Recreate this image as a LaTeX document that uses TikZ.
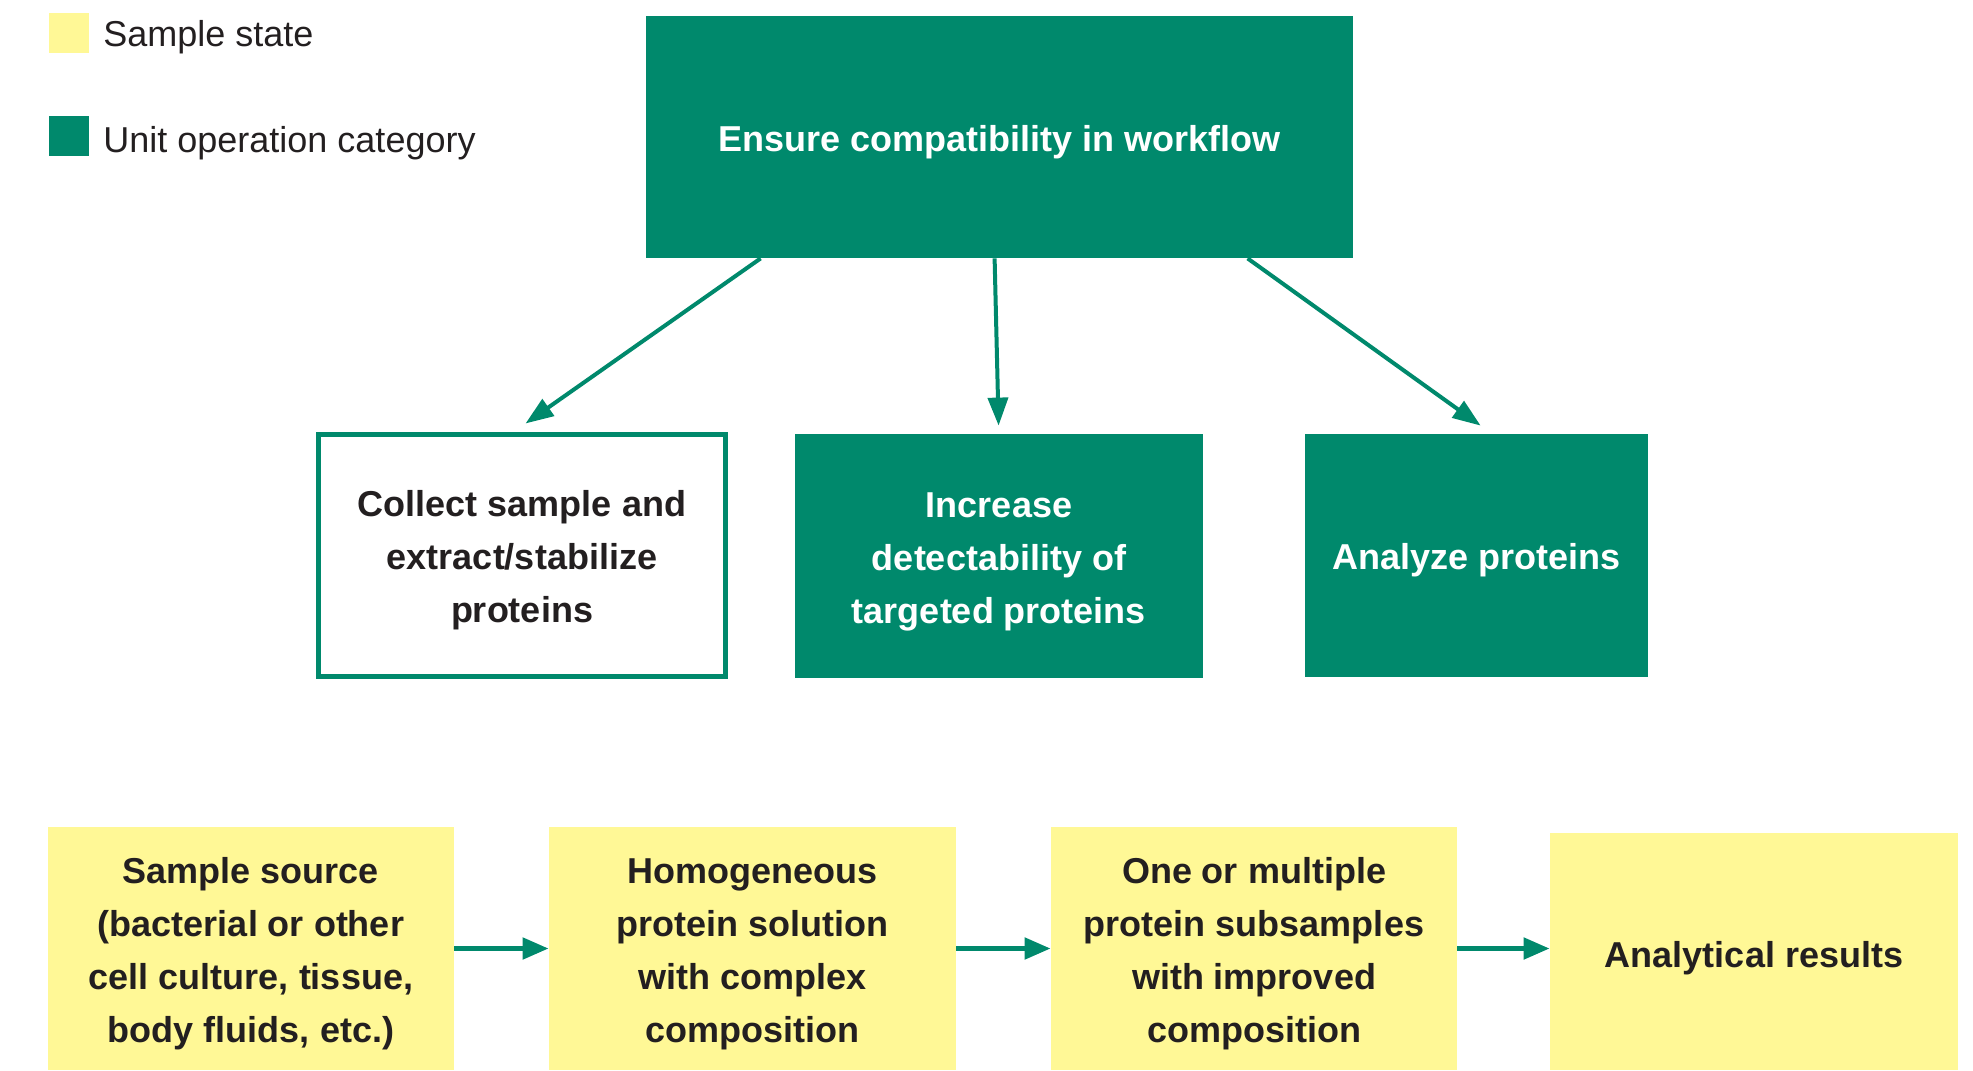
\documentclass[tikz,border=0pt]{standalone}
\usepackage{fontspec}
\setmainfont{Liberation Sans}
\usetikzlibrary{arrows.meta,calc}
\definecolor{opgreen}{RGB}{0,137,108}
\definecolor{stateyellow}{RGB}{255,248,150}
\definecolor{ink}{RGB}{35,31,32}
% a taller strut on the first line sets each text block a little lower
\newcommand{\lift}[1][18pt]{\rule{0pt}{#1}}
\begin{document}
\begin{tikzpicture}[x=0.5pt,y=-0.5pt,
  box/.style={rectangle, inner sep=0pt, align=center,
    font=\bfseries\fontsize{18pt}{26.5pt}\selectfont},
  opbox/.style={box, fill=opgreen, text=white},
  openbox/.style={box, draw=opgreen, line width=2.5pt, fill=white, text=ink},
  statebox/.style={box, fill=stateyellow, text=ink},
  flow/.style={draw=opgreen, line width=2pt, -{Triangle[length=14pt,width=10pt]}},
  chainarrow/.style={draw=opgreen, line width=2.5pt, -{Triangle[length=13pt,width=10.5pt]}},
  legendkey/.style={rectangle, inner sep=0pt, minimum size=20pt},
  legendtext/.style={anchor=base west, inner sep=0pt, text=ink,
    font=\fontsize{18pt}{21pt}\selectfont}]

\useasboundingbox (0,0) rectangle (1973,1070);

% legend
\node[legendkey, fill=stateyellow] (keystate) at (69,33) {};
\node[legendtext] (lblstate) at (103,47) {Sample state};
\node[legendkey, fill=opgreen] (keyop) at (69,136) {};
\node[legendtext] (lblop) at (103,152) {Unit operation category};

% unit operation categories
\node[opbox, minimum width=353.5pt, minimum height=121pt] (top) at (999.5,137)
  {\lift Ensure compatibility in workflow};
\node[openbox, minimum width=203.5pt, minimum height=121pt] (collect) at (522,555.5)
  {\lift Collect sample and\\extract/stabilize\\proteins};
\node[opbox, minimum width=204pt, minimum height=122pt] (increase) at (999,556)
  {\lift Increase\\detectability of\\targeted proteins};
\node[opbox, minimum width=171.5pt, minimum height=121.5pt] (analyze) at (1476.5,555.5)
  {\lift Analyze proteins};

% sample states
\node[statebox, minimum width=203pt, minimum height=121.5pt] (source) at (251,948.5)
  {\lift Sample source\\(bacterial or other\\cell culture, tissue,\\body fluids, etc.)};
\node[statebox, minimum width=203.5pt, minimum height=121.5pt] (solution) at (752.5,948.5)
  {\lift Homogeneous\\protein solution\\with complex\\composition};
\node[statebox, minimum width=203pt, minimum height=121.5pt] (subsamples) at (1254,948.5)
  {\lift One or multiple\\protein subsamples\\with improved\\composition};
\node[statebox, minimum width=204pt, minimum height=118.5pt] (results) at (1754,951.5)
  {\lift[20pt]Analytical results};

% connectors from the overall goal to the categories
\draw[flow] ($(top.south west)+(115,0)$) -- ($(collect.north west)+(209.5,-8.5)$);
\draw[flow] ($(top.south west)+(349,0)$) -- ($(increase.north west)+(204,-8)$);
\draw[flow] ($(top.south west)+(602,0)$) -- ($(analyze.north west)+(176,-8)$);

% sample state chain
\draw[chainarrow] (source.east) -- (solution.west);
\draw[chainarrow] (solution.east) -- (subsamples.west);
\draw[chainarrow] (subsamples.east) -- (subsamples.east -| results.west);
\end{tikzpicture}
\end{document}
